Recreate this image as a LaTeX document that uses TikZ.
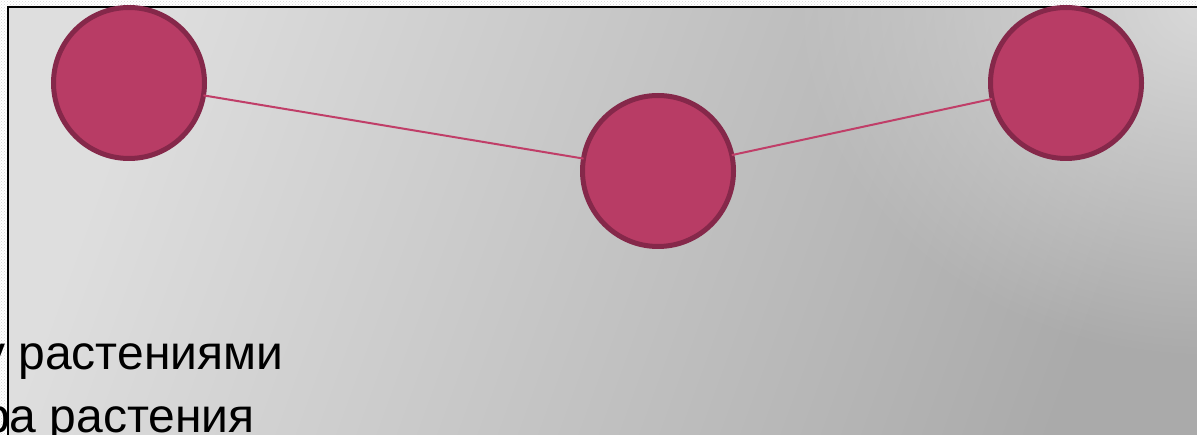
\documentclass[tikz,border=0pt]{standalone}
\usepackage{fontspec}
\setmainfont{Liberation Sans}
\usetikzlibrary{patterns,fadings}
\definecolor{bgA}{RGB}{222,222,222}
\definecolor{bgB}{RGB}{170,170,170}
\definecolor{bgC}{RGB}{218,218,218}
\definecolor{dotfill}{RGB}{184,60,101}
\definecolor{dotring}{RGB}{133,40,74}
\definecolor{linkc}{RGB}{192,62,104}
\tikzfading[name=softglow, inner color=transparent!0, outer color=transparent!100]
\tikzset{
  dot/.style={circle, fill=dotfill, draw=dotring, line width=5pt, minimum size=151pt, inner sep=0pt, outer sep=0pt},
  link/.style={draw=linkc, line width=2pt},
  listtext/.style={anchor=base west, inner sep=0pt, font=\fontsize{48}{57}\selectfont, text=black}
}
\begin{document}
\begin{tikzpicture}[x=1pt,y=-1pt]
\useasboundingbox (0,0) rectangle (1197,435);
\clip (0,0) rectangle (1197,435);
% textured margin
\fill[white] (0,0) rectangle (1197,435);
\fill[pattern=crosshatch dots, pattern color=gray!35] (0,0) rectangle (1197,435);
% gradient panel
\begin{scope}
\clip (8,7) rectangle (1200,440);
\shade[left color=bgA, right color=bgB, shading angle=70] (8,7) rectangle (1200,440);
\fill[bgC, path fading=softglow] (1210,0) ellipse (420 and 360);
\end{scope}
\draw[black, line width=2pt] (8,440) -- (8,7) -- (1200,7);
% circles
\node[dot] (a) at (129,83) {};
\node[dot] (b) at (658,171) {};
\node[dot] (c) at (1066,83) {};
\draw[link] (a) -- (b);
\draw[link] (b) -- (c);
% text
\node[listtext] (t1) at (-19,370) {у растениями};
\node[listtext] (t2) at (-17,432) {ра растения};
\end{tikzpicture}
\end{document}
